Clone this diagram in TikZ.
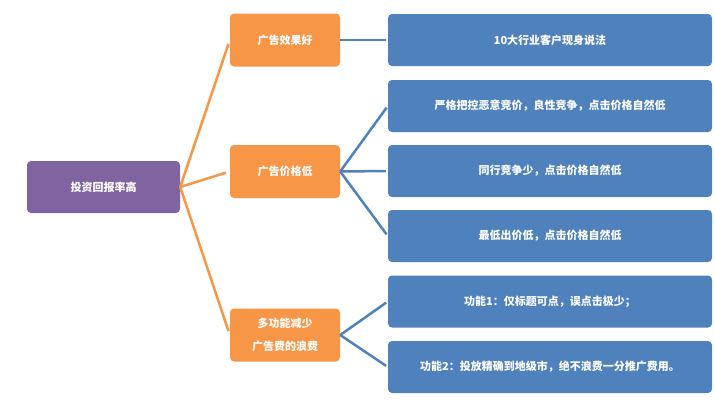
\documentclass[tikz,border=0pt]{standalone}
\usepackage{fontspec}
\newfontfamily\cjk{Noto Sans CJK SC}
\usepackage{tikz}
\usetikzlibrary{positioning}
\definecolor{rootpurple}{HTML}{8064A2}
\definecolor{topicorange}{HTML}{F79646}
\definecolor{detailblue}{HTML}{4F81BD}
\tikzset{
	box/.style={rounded corners=4pt,text=white,align=center,inner sep=0pt,font=\cjk\bfseries\fontsize{11}{23}\selectfont},
	rootbox/.style={box,fill=rootpurple,minimum width=153pt,minimum height=52pt},
	topicbox/.style={box,fill=topicorange,minimum width=110pt,minimum height=53pt},
	detailbox/.style={box,fill=detailblue,minimum width=324pt,minimum height=52pt},
	orangeline/.style={topicorange,line width=2.5pt,shorten >=4pt},
	blueline/.style={detailblue,line width=2.5pt,shorten >=2pt},
}

\begin{document}
\begin{tikzpicture}[x=1pt,y=-1pt]
	\useasboundingbox (0,0) rectangle (715,400);
	
	\node[rootbox] (root) at (103.5,187) {投资回报率高};
	
	\node[topicbox] (effect) at (285,40) {广告效果好};
	\node[topicbox] (price) at (285,171.5) {广告价格低};
	\node[topicbox] (func) at (285,335) {多功能减少\\广告费的浪费};
	
	\node[detailbox] (cases) at (550,40) {10大行业客户现身说法};
	\node[detailbox] (strict) at (550,106) {严格把控恶意竞价，良性竞争，点击价格自然低};
	\node[detailbox] (few) at (550,171) {同行竞争少，点击价格自然低};
	\node[detailbox] (lowest) at (550,236) {最低出价低，点击价格自然低};
	\node[detailbox] (titleonly) at (550,301.5) {功能1：仅标题可点，误点击极少；};
	\node[detailbox] (region) at (550,367) {功能2：投放精确到地级市，绝不浪费一分推广费用。};
	
	\draw[orangeline] (root.east) -- (effect.west);
	\draw[orangeline] (root.east) -- (price.west);
	\draw[orangeline] (root.east) -- (func.west);
	
	\draw[blueline] (effect.east) -- (cases.west);
	\draw[blueline] (price.east) -- (strict.west);
	\draw[blueline] (price.east) -- (few.west);
	\draw[blueline] (price.east) -- (lowest.west);
	\draw[blueline] (func.east) -- (titleonly.west);
	\draw[blueline] (func.east) -- (region.west);
\end{tikzpicture}
\end{document}
